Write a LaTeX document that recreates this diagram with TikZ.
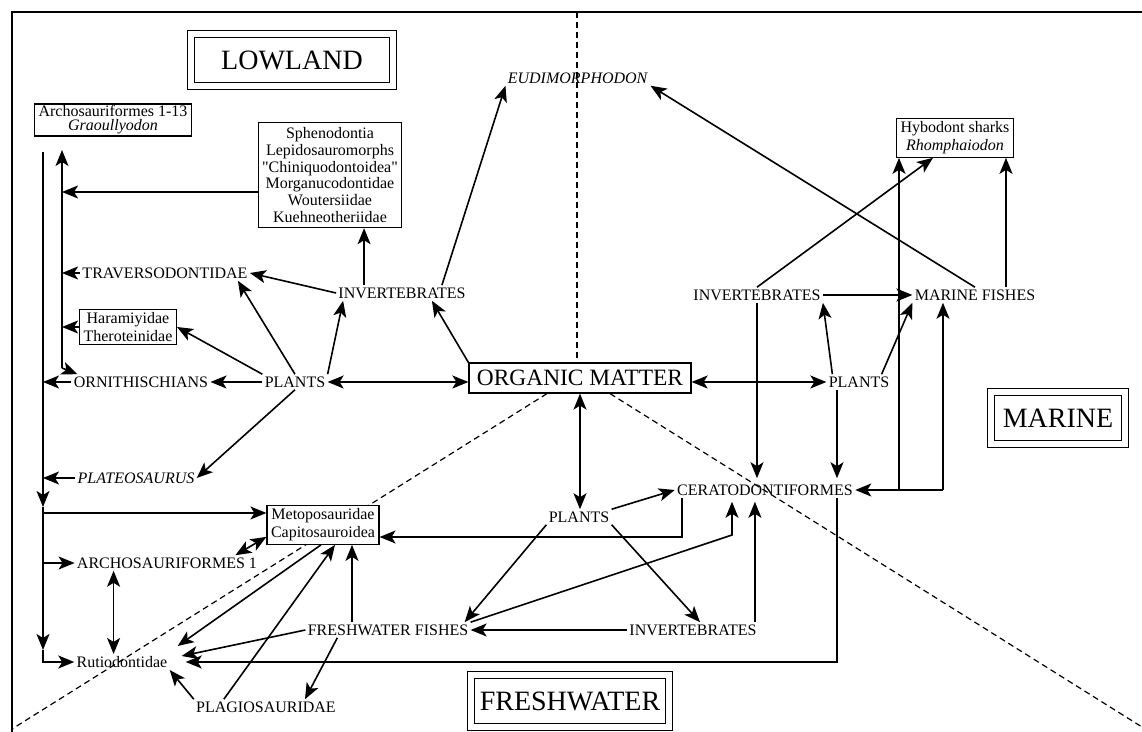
\documentclass[tikz,border=0pt]{standalone}
\usepackage{fontspec}
\setmainfont{Liberation Serif}
\usetikzlibrary{arrows.meta}
\usetikzlibrary{backgrounds}
\newcommand\txfont{\fontsize{8}{9}\selectfont}

\begin{document}
\begin{tikzpicture}[x=0.5pt, y=-0.5pt,
	taxon/.style={inner sep=1pt, font=\txfont},
	taxbox/.style={draw, fill=white, line width=0.6pt, align=center, inner xsep=2pt, inner ysep=1.5pt, font=\txfont},
	realm/.style={draw, double, double distance=2.8pt, line width=0.6pt, minimum height=26pt, inner sep=0pt, font=\fontsize{14}{14}\selectfont},
	hub/.style={draw, fill=white, line width=0.6pt, inner xsep=4pt, inner ysep=2.5pt, minimum height=15pt, font=\fontsize{11.7}{12}\selectfont},
	arr/.style={-{Stealth[length=8pt,width=6.5pt,inset=2pt]}, line width=0.8pt},
	darr/.style={{Stealth[length=8pt,width=6.5pt,inset=2pt]}-{Stealth[length=8pt,width=6.5pt,inset=2pt]}, line width=0.8pt},
	zone/.style={dash pattern=on 3pt off 2pt, line width=0.6pt}]
	\useasboundingbox (0,0) rectangle (1142,732);

	% frame
	\draw[line width=0.8pt] (1142,12) -- (12,12) -- (12,732);

	% nodes
	\node[realm, minimum width=101pt] (low) at (292,60) {LOWLAND};
	\node[realm, minimum width=67pt] (mar) at (1058,418) {MARINE};
	\node[realm, minimum width=99pt] (fresh) at (570,701) {FRESHWATER};
	\node[hub] (om) at (580,378) {ORGANIC MATTER};

	\node[taxbox, font=\fontsize{8}{7}\selectfont, inner ysep=0.8pt] (archo) at (113,120) {Archosauriformes 1-13\\\textit{Graoullyodon}};
	\node[taxbox, font=\fontsize{8}{8.4}\selectfont, inner ysep=2.5pt] (spheno) at (330,175) {Sphenodontia\\Lepidosauromorphs\\\textquotedbl Chiniquodontoidea\textquotedbl\\Morganucodontidae\\Woutersiidae\\Kuehneotheriidae};
	\node[taxbox] (hybo) at (955,138) {Hybodont sharks\\\textit{Rhomphaiodon}};
	\node[taxbox] (haram) at (128,327) {Haramiyidae\\Theroteinidae};
	\node[taxbox] (meto) at (323,525) {Metoposauridae\\Capitosauroidea};

	\node[taxon] (eudi) at (578,78) {\textit{EUDIMORPHODON}};
	\node[taxon] (travL) at (165,273) {TRAVERSODONTIDAE};
	\node[taxon] (invL) at (402,293) {INVERTEBRATES};
	\node[taxon] (ornith) at (141,382) {ORNITHISCHIANS};
	\node[taxon] (plL) at (295,382) {PLANTS};
	\node[taxon] (plateo) at (136,478) {\textit{PLATEOSAURUS}};
	\node[taxon] (invR) at (757,295) {INVERTEBRATES};
	\node[taxon] (mfish) at (975,295) {MARINE FISHES};
	\node[taxon] (plR) at (859,382) {PLANTS};
	\node[taxon] (cerato) at (765,490) {CERATODONTIFORMES};
	\node[taxon] (plF) at (579,517) {PLANTS};
	\node[taxon] (ffish) at (388,630) {FRESHWATER FISHES};
	\node[taxon] (invF) at (693,630) {INVERTEBRATES};
	\node[taxon] (arch1) at (167,563) {ARCHOSAURIFORMES 1};
	\node[taxon] (rutio) at (122,662) {Rutiodontidae};
	\node[taxon] (plagio) at (266,707) {PLAGIOSAURIDAE};

	% bend points
	\coordinate (colAt) at (43,152);
	\coordinate (colA1) at (43,507);
	\coordinate (colA2) at (43,650);
	\coordinate (colBt) at (62,150);
	\coordinate (colBb) at (62,368);
	\coordinate (topd) at (577,12);
	\coordinate (bld) at (12,729);
	\coordinate (brd) at (1142,727);
	\coordinate (cbr) at (943,490);
	\coordinate (cbm) at (899,490);
	\coordinate (fcb) at (732,535);

	% zone borders
	\begin{scope}[on background layer]
	\draw[zone] (topd) -- (topd |- om.north);
	\draw[zone] ([xshift=-16.5pt]om.south) -- (bld);
	\draw[zone] ([xshift=15pt]om.south) -- (brd);
	\end{scope}

	% edges, lowland
	\coordinate (ivs) at ([xshift=14pt]invL.north west);
	\draw[arr] (ivs) -- (ivs |- spheno.south);
	\coordinate (spw) at ([yshift=-8.5pt]spheno.west);
	\draw[arr] (spw) -- (spw -| colBt);
	\draw[arr] ([xshift=-13pt]invL.north east) -- (eudi.south west);
	\draw[arr] (invL.west) -- (travL.east);
	\draw[arr] (plL.north) -- ([xshift=-6pt]travL.south east);
	\draw[arr] (plL.north east) -- ([xshift=3.5pt]invL.south west);
	\draw[arr] (plL.north west) -- (haram.east);
	\draw[arr] (plL.west) -- (ornith.east);
	\draw[arr] (plL.south) -- (plateo.east);
	\draw[arr] (travL.west) -- (travL.west -| colBt);
	\draw[arr] (haram.west) -- (haram.west -| colBt);
	\draw[arr] (colBb) -- (colBt);
	\draw[arr] (colBb) -- ([xshift=3pt]ornith.north west);
	\draw[arr] (ornith.west) -- (ornith.west -| colAt);
	\draw[arr] (plateo.west) -- (plateo.west -| colAt);
	\draw[arr] (colAt) -- (colA1);
	\draw[arr] (colA1) -- (colA2);
	\draw[arr] (colA2) |- (rutio.west);
	\coordinate (mw) at ([yshift=6pt]meto.west);
	\draw[arr] (mw -| colAt) -- (mw);
	\draw[arr] (arch1.west -| colAt) -- (arch1.west);
	\coordinate (a1s) at ([xshift=19.5pt]arch1.south west);
	\draw[darr] (a1s) -- (a1s |- rutio.north);
	\draw[darr] ([xshift=-12pt]arch1.north east) -- ([yshift=4pt]meto.south west);

	% edges, organic matter
	\draw[darr] (plL.east) -- (plL.east -| om.west);
	\draw[arr] (om.north west) -- ([xshift=-18pt]invL.south east);
	\draw[darr] (plR.west -| om.east) -- (plR.west);
	\draw[darr] (om.south) -- (om.south |- plF.north);

	% edges, marine
	\draw[arr] (invR.north) -- ([xshift=-11pt]hybo.south);
	\draw[arr] (invR.east) -- (mfish.west);
	\draw[arr, shorten >=2pt] (invR.south) -- (invR.south |- cerato.north);
	\draw[arr] ([xshift=3pt]plR.north west) -- (invR.south east);
	\draw[arr] ([xshift=-5pt]plR.north east) -- (mfish.south west);
	\coordinate (prs) at ([xshift=-11pt]plR.south);
	\draw[arr, shorten >=2pt] (prs) -- (prs |- cerato.north);
	\draw[arr] (mfish.north) -- (eudi.south east);
	\coordinate (mfn) at ([xshift=15.5pt]mfish.north);
	\draw[arr] (mfn) -- (mfn |- hybo.south);
	\draw[arr] (cbr) -- (cerato.east);
	\draw[arr] (cbr) -- (cbr |- mfish.south);
	\draw[arr] (cbm) -- (cbm |- hybo.south);

	% edges, freshwater
	\draw[arr] (plF.north east) -- (cerato.west);
	\coordinate (csw) at ([xshift=3.5pt]cerato.south west);
	\draw[arr] (csw) |- ([yshift=-6pt]meto.east);
	\draw[arr] (plF.south west) -- ([xshift=-3pt]ffish.north east);
	\draw[arr] (plF.south east) -- ([xshift=3.5pt]invF.north);
	\draw[arr] (invF.west) -- (ffish.east);
	\coordinate (ifn) at ([xshift=-2pt]invF.north east);
	\draw[arr, shorten >=2pt] (ifn) -- (ifn |- cerato.south);
	\draw[arr, shorten >=2pt] (ffish.north east) -- (fcb) -- (fcb |- cerato.south);
	\coordinate (ffn) at ([xshift=-18pt]ffish.north);
	\draw[arr] (ffn) -- (ffn |- meto.south);
	\draw[arr] (ffish.west) -- ([xshift=6pt,yshift=3pt]rutio.east);
	\draw[arr] ([xshift=-1pt]meto.south) -- ([xshift=4pt,yshift=8pt]rutio.east);
	\coordinate (csb) at ([xshift=36pt]cerato.south);
	\draw[arr] (csb) |- ([xshift=8pt]rutio.east);
	\draw[arr] ([xshift=15pt]plagio.north west) -- ([xshift=6pt]meto.south);
	\draw[arr] (plagio.north west) -- (rutio.south east);
	\draw[arr] ([xshift=16pt]ffish.south west) -- ([xshift=19.5pt]plagio.north);
\end{tikzpicture}
\end{document}
